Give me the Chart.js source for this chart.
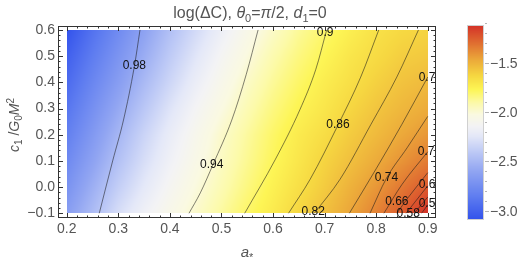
<!DOCTYPE html>
<html><head><meta charset="utf-8">
<script src="https://cdn.jsdelivr.net/npm/chart.js@4"></script>
<style>html,body{margin:0;padding:0;background:#fff}#wrap{width:529px;height:264px;position:relative}</style>
</head><body><div id="wrap"><canvas id="c" width="529" height="264"></canvas></div>
<script>
// ---------- data ----------
const xTicks = [0.2,0.3,0.4,0.5,0.6,0.7,0.8,0.9];
const xTickLabels = ['0.2','0.3','0.4','0.5','0.6','0.7','0.8','0.9'];
const yTicks = [-0.1,0.0,0.1,0.2,0.3,0.4,0.5,0.6];
const yTickLabels = ['\u22120.1','0.0','0.1','0.2','0.3','0.4','0.5','0.6'];
const cbTicks = [-3.0,-2.5,-2.0,-1.5];
const cbTickLabels = ['\u22123.0','\u22122.5','\u22122.0','\u22121.5'];
const cbRange = [-3.094,-1.118];

// density grid: log(ΔC) at gridX (columns) × gridY (rows)
const gridX = [0.2,0.25,0.3,0.35,0.4,0.45,0.5,0.55,0.6,0.65,0.7,0.75,0.8,0.85,0.9];
const gridY = [-0.1,0.0,0.1,0.2,0.3,0.4,0.5,0.6];
const logDC_yM01 = [-2.65,-2.48,-2.30,-2.17,-2.07,-1.98,-1.89,-1.80,-1.72,-1.63,-1.55,-1.46,-1.36,-1.25,-1.12];
const logDC_y000 = [-2.72,-2.55,-2.38,-2.24,-2.12,-2.02,-1.93,-1.84,-1.75,-1.67,-1.59,-1.50,-1.42,-1.33,-1.24];
const logDC_y010 = [-2.78,-2.62,-2.45,-2.30,-2.17,-2.06,-1.96,-1.87,-1.78,-1.70,-1.62,-1.55,-1.48,-1.41,-1.34];
const logDC_y020 = [-2.84,-2.68,-2.51,-2.35,-2.21,-2.09,-1.98,-1.89,-1.80,-1.72,-1.66,-1.59,-1.53,-1.47,-1.42];
const logDC_y030 = [-2.90,-2.74,-2.58,-2.42,-2.27,-2.14,-2.03,-1.93,-1.84,-1.76,-1.70,-1.63,-1.57,-1.52,-1.48];
const logDC_y040 = [-2.96,-2.80,-2.65,-2.49,-2.34,-2.20,-2.08,-1.97,-1.88,-1.80,-1.73,-1.67,-1.61,-1.56,-1.53];
const logDC_y050 = [-3.02,-2.86,-2.71,-2.56,-2.40,-2.26,-2.13,-2.02,-1.92,-1.84,-1.77,-1.70,-1.65,-1.60,-1.58];
const logDC_y060 = [-3.09,-2.92,-2.77,-2.62,-2.46,-2.32,-2.19,-2.07,-1.97,-1.88,-1.81,-1.74,-1.68,-1.64,-1.62];
const logDC = [logDC_yM01,logDC_y000,logDC_y010,logDC_y020,logDC_y030,logDC_y040,logDC_y050,logDC_y060];

// contour lines (a*, c1/G0M^2)
const c098 = [[0.263,-0.1],[0.289,0.1],[0.310,0.256],[0.331,0.46],[0.342,0.6]];
const c094 = [[0.437,-0.1],[0.459,-0.022],[0.484,0.088],[0.520,0.256],[0.548,0.43],[0.571,0.6]];
const c090 = [[0.545,-0.1],[0.604,0.104],[0.652,0.295],[0.683,0.45],[0.704,0.6]];
const c086 = [[0.630,-0.1],[0.672,0.03],[0.726,0.237],[0.770,0.42],[0.805,0.6]];
const c082 = [[0.680,-0.1],[0.730,0.03],[0.790,0.24],[0.840,0.42],[0.882,0.6]];
const c078 = [[0.748,-0.1],[0.800,0.07],[0.850,0.24],[0.900,0.42]];
const c074 = [[0.788,-0.1],[0.820,0.034],[0.860,0.15],[0.900,0.27]];
const c070 = [[0.815,-0.1],[0.850,0.01],[0.900,0.135]];
const c066 = [[0.840,-0.1],[0.862,-0.04],[0.900,0.055]];
const c062 = [[0.858,-0.1],[0.900,0.005]];
const c058 = [[0.874,-0.1],[0.900,-0.038]];
const c054 = [[0.888,-0.1],[0.900,-0.068]];
const contours = [c098,c094,c090,c086,c082,c078,c074,c070,c066,c062,c058,c054];

const labelText = ['0.98','0.94','0.9','0.86','0.82','0.78','0.74','0.7','0.66','0.62','0.58','0.54'];
const labelX = [0.331,0.481,0.701,0.726,0.678,0.905,0.820,0.897,0.840,0.905,0.862,0.905];
const labelY = [0.463,0.085,0.591,0.237,-0.094,0.417,0.034,0.135,-0.056,0.010,-0.100,-0.062];

// ---------- style ----------
const TXT = '#555555';
const FONT = '"Liberation Sans", Arial, sans-serif';
const CMAP = [
 [0.00, 50, 82,236],[0.12, 95,125,240],[0.25,145,165,242],[0.35,190,202,246],
 [0.43,228,232,248],[0.48,243,243,245],[0.54,250,249,225],[0.60,252,250,170],
 [0.67,253,245, 85],[0.74,246,215, 65],[0.82,236,170, 58],[0.90,225,115, 50],[1.00,212, 48, 40]];
function cmap(t){
  t=Math.max(0,Math.min(1,t));
  for(let i=0;i<CMAP.length-1;i++){
    const a=CMAP[i],b=CMAP[i+1];
    if(t<=b[0]){const f=(t-a[0])/(b[0]-a[0]);return [a[1]+(b[1]-a[1])*f,a[2]+(b[2]-a[2])*f,a[3]+(b[3]-a[3])*f];}
  }
  const l=CMAP[CMAP.length-1];return [l[1],l[2],l[3]];
}
function idx(arr,v){
  let i=0; while(i<arr.length-2 && v>arr[i+1]) i++;
  let f=(v-arr[i])/(arr[i+1]-arr[i]); f=Math.max(0,Math.min(1,f));
  return [i,f];
}
function sampleField(vx,vy){
  const [i,fx]=idx(gridX,vx), [j,fy]=idx(gridY,vy);
  const a=logDC[j][i], b=logDC[j][i+1], c=logDC[j+1][i], d=logDC[j+1][i+1];
  return (a*(1-fx)+b*fx)*(1-fy)+(c*(1-fx)+d*fx)*fy;
}
function drawRich(ctx,parts,size,cx,cy,color){
  ctx.save(); ctx.fillStyle=color; ctx.textBaseline='alphabetic'; ctx.textAlign='left';
  const fnt=p=>(p.i?'italic ':'')+Math.round((p.s||p.u)?size*0.7:size)+'px '+FONT;
  let w=0; parts.forEach(p=>{ctx.font=fnt(p);w+=ctx.measureText(p.t).width;});
  let x=cx-w/2; const base=cy+size*0.35;
  parts.forEach(p=>{ctx.font=fnt(p);const dy=p.s?size*0.22:(p.u?-size*0.38:0);ctx.fillText(p.t,x,base+dy);x+=ctx.measureText(p.t).width;});
  ctx.restore();
}

const heatPlugin = {
  id:'heat',
  beforeDatasetsDraw(chart){
    const ctx=chart.ctx, xs=chart.scales.x, ys=chart.scales.y;
    const L=Math.round(xs.getPixelForValue(gridX[0])), R=Math.round(xs.getPixelForValue(gridX[gridX.length-1]));
    const T=Math.round(ys.getPixelForValue(gridY[gridY.length-1])), B=Math.round(ys.getPixelForValue(gridY[0]));
    const w=R-L, h=B-T; const img=ctx.createImageData(w,h);
    for(let py=0;py<h;py++){ const vy=ys.getValueForPixel(T+py+0.5);
      for(let px=0;px<w;px++){ const vx=xs.getValueForPixel(L+px+0.5);
        const v=sampleField(vx,vy); const c=cmap((v-cbRange[0])/(cbRange[1]-cbRange[0]));
        const k=(py*w+px)*4; img.data[k]=c[0]; img.data[k+1]=c[1]; img.data[k+2]=c[2]; img.data[k+3]=255; } }
    const off=document.createElement('canvas'); off.width=w; off.height=h; off.getContext('2d').putImageData(img,0,0);
    ctx.drawImage(off,L,T);
  },
  afterDatasetsDraw(chart){
    const ctx=chart.ctx, xs=chart.scales.x, ys=chart.scales.y, a=chart.chartArea;
    ctx.save(); ctx.beginPath(); ctx.rect(a.left,a.top,a.right-a.left,a.bottom-a.top); ctx.clip();
    ctx.font='12px '+FONT; ctx.fillStyle='#111'; ctx.textAlign='center'; ctx.textBaseline='middle';
    labelText.forEach((t,i)=>ctx.fillText(t,xs.getPixelForValue(labelX[i]),ys.getPixelForValue(labelY[i])));
    ctx.restore();
  },
  afterDraw(chart){
    const ctx=chart.ctx, a=chart.chartArea, xs=chart.scales.x, ys=chart.scales.y, cb=chart.scales.cb;
    // frame
    ctx.save(); ctx.strokeStyle='#333'; ctx.lineWidth=1;
    ctx.strokeRect(Math.round(a.left)+0.5,Math.round(a.top)+0.5,Math.round(a.right-a.left)-1,Math.round(a.bottom-a.top)-1);
    ctx.beginPath();
    for(let k=0;k<=40;k++){ const v=0.18+k*0.02; if(v<xs.min||v>xs.max) continue;
      const major=Math.abs(v*10-Math.round(v*10))<1e-6; const len=major?5:2.5;
      const p=Math.round(xs.getPixelForValue(v))+0.5;
      ctx.moveTo(p,a.bottom); ctx.lineTo(p,a.bottom-len); ctx.moveTo(p,a.top); ctx.lineTo(p,a.top+len); }
    for(let k=0;k<=40;k++){ const v=-0.12+k*0.02; if(v<ys.min||v>ys.max) continue;
      const major=Math.abs(v*10-Math.round(v*10))<1e-6; const len=major?5:2.5;
      const p=Math.round(ys.getPixelForValue(v))+0.5;
      ctx.moveTo(a.left,p); ctx.lineTo(a.left+len,p); ctx.moveTo(a.right,p); ctx.lineTo(a.right-len,p); }
    ctx.stroke(); ctx.restore();
    // colorbar
    const cx0=467, cx1=484;
    const top=cb.getPixelForValue(cbRange[1]), bot=cb.getPixelForValue(cbRange[0]);
    ctx.save();
    for(let y=Math.floor(top);y<Math.ceil(bot);y++){ const v=cb.getValueForPixel(y+0.5);
      const c=cmap((v-cbRange[0])/(cbRange[1]-cbRange[0])); ctx.fillStyle=`rgb(${c[0]|0},${c[1]|0},${c[2]|0})`; ctx.fillRect(cx0,y,cx1-cx0,1); }
    ctx.strokeStyle='#d0d0d0'; ctx.strokeRect(cx0+0.5,Math.floor(top)+0.5,cx1-cx0-1,Math.ceil(bot)-Math.floor(top)-1);
    ctx.strokeStyle='#b5b5b5'; ctx.beginPath();
    for(let k=0;k<=19;k++){ const v=-3.0+k*0.1; const p=Math.round(cb.getPixelForValue(v))+0.5; const major=k%5===0;
      ctx.moveTo(cx1+1,p); ctx.lineTo(cx1+(major?5:3),p); }
    ctx.stroke();
    ctx.fillStyle=TXT; ctx.font='14px '+FONT; ctx.textAlign='left'; ctx.textBaseline='middle';
    cbTicks.forEach((v,i)=>ctx.fillText(cbTickLabels[i],490,cb.getPixelForValue(v)+1));
    ctx.restore();
    // titles
    drawRich(ctx,[{t:'log(\u0394C), '},{t:'\u03B8',i:1},{t:'0',s:1},{t:'='},{t:'\u03C0',i:1},{t:'/2, '},{t:'d',i:1},{t:'1',s:1},{t:'=0'}],16,250,12.5,TXT);
    drawRich(ctx,[{t:'a',i:1},{t:'*',s:1}],15,247,252,TXT);
    ctx.save(); ctx.translate(14,125); ctx.rotate(-Math.PI/2);
    drawRich(ctx,[{t:'c',i:1},{t:'1',s:1},{t:' /'},{t:'G',i:1},{t:'0',s:1},{t:'M',i:1},{t:'2',u:1}],14,0,0,TXT);
    ctx.restore();
  }
};

const datasets = contours.map(c=>({
  data:c.map(p=>({x:p[0],y:p[1]})), showLine:true, borderColor:'rgba(25,25,25,0.55)', borderWidth:1,
  pointRadius:0, cubicInterpolationMode:'monotone', fill:false
}));

new Chart(document.getElementById('c'),{
  type:'scatter',
  data:{datasets},
  plugins:[heatPlugin],
  options:{
    responsive:false, animation:false, devicePixelRatio:1,
    layout:{padding:{left:0,top:26,right:93,bottom:0}},
    plugins:{legend:{display:false},tooltip:{enabled:false},title:{display:false}},
    scales:{
      x:{type:'linear',min:0.183,max:0.916,
        afterBuildTicks:s=>{s.ticks=xTicks.map(v=>({value:v}));},
        afterFit:s=>{s.height=46;},
        ticks:{callback:(v,i)=>xTickLabels[i],color:TXT,font:{size:14,family:FONT},padding:3,maxRotation:0,autoSkip:false},
        grid:{display:false,drawTicks:false},border:{display:false}},
      y:{type:'linear',min:-0.118,max:0.615,
        afterBuildTicks:s=>{s.ticks=yTicks.map(v=>({value:v}));},
        afterFit:s=>{s.width=58;},
        ticks:{callback:(v,i)=>yTickLabels[i],color:TXT,font:{size:14,family:FONT},padding:3,autoSkip:false},
        grid:{display:false,drawTicks:false},border:{display:false}},
      cb:{type:'linear',position:'right',display:false,min:-3.074,max:-1.128}
    }
  }
});
</script></body></html>
